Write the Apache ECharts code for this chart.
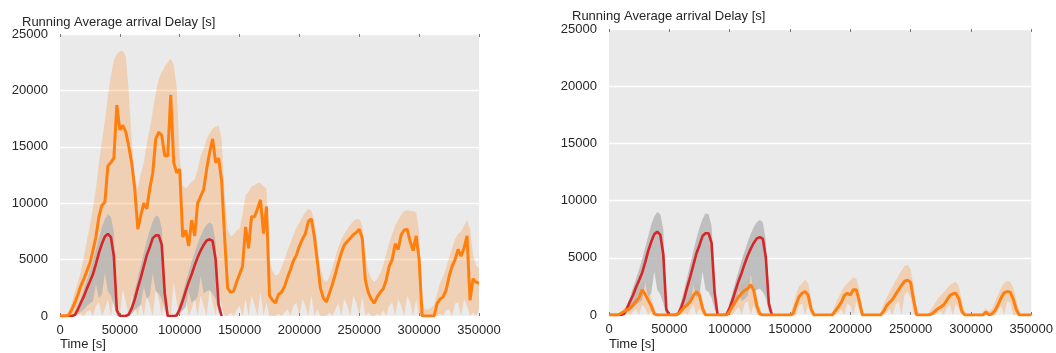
<!DOCTYPE html>
<html>
<head>
<meta charset="utf-8">
<script src="https://cdn.jsdelivr.net/npm/echarts@6.0.0/dist/echarts.min.js"></script>
<style>
  html, body { margin: 0; padding: 0; background: #fff; }
  #chart { width: 1056px; height: 353px; }
</style>
</head>
<body>
<div id="chart"></div>
<script>
// samples every 2500 s, from 0 to 350000 s
const STEP = 2500;

// left panel: orange running average + its min/max band
const leftAvg = [
  0, 0, 0, 100, 600, 1200, 1900, 2700, 3300, 4000,
  4700, 5800, 7000, 8800, 9800, 10100, 13300, 13600, 14000, 18700,
  16500, 16900, 16300, 15000, 13500, 11200, 7700, 8900, 10000, 9500,
  11300, 12700, 15700, 16300, 16000, 14200, 14200, 19600, 13600, 12700,
  13000, 7000, 7600, 6200, 8500, 7100, 10000, 10600, 11200, 13000,
  14500, 15700, 13600, 14000, 12000, 7000, 2500, 2100, 2200, 3000,
  3700, 4400, 7900, 6000, 8800, 8800, 9500, 10300, 7300, 9700,
  1800, 1400, 1150, 1900, 2100, 2600, 3400, 4100, 4900, 5400,
  6200, 6800, 7300, 8400, 8600, 7000, 4800, 2500, 1600, 1250,
  2000, 2800, 3700, 4700, 5600, 6300, 6600, 6900, 7200, 7400,
  7700, 6900, 3200, 2100, 1500, 1150, 1700, 2100, 2400, 3200,
  4400, 5000, 6400, 5900, 7200, 7600, 7700, 6600, 5800, 7100,
  5000, 0, 0, 0, 0, 0, 1100, 1500, 1700, 2300,
  3500, 4400, 5000, 5900, 5300, 6000, 7100, 1400, 3300, 3000,
  2900
];
const leftHi = [
  0, 0, 0, 500, 1200, 2200, 3000, 4000, 5300, 6700,
  8000, 9600, 11300, 13600, 15500, 17300, 19500, 21300, 22700, 23200,
  23500, 23500, 23000, 19800, 15500, 12200, 11300, 12600, 13600, 15300,
  16600, 18200, 19800, 21000, 21600, 22100, 22500, 22800, 22300, 20200,
  14000, 11600, 11300, 11600, 11900, 12100, 13000, 14200, 14800, 15700,
  16200, 16600, 16800, 16900, 15700, 11000, 7700, 7100, 7200, 7600,
  7700, 9000, 10700, 11000, 11500, 11600, 11800, 11800, 11500, 11300,
  5000, 4000, 3600, 3700, 4300, 5000, 5800, 6500, 7200, 7800,
  8300, 8800, 9200, 9500, 9300, 8500, 6500, 4300, 3300, 3000,
  3500, 4300, 5200, 6100, 6800, 7300, 7700, 8100, 8400, 8600,
  8600, 8000, 5500, 4000, 3300, 3000, 3300, 3800, 4500, 5500,
  6500, 7300, 8000, 8500, 9000, 9300, 9400, 9300, 9300, 9200,
  7500, 1000, 600, 600, 700, 1000, 2000, 3000, 3500, 4200,
  5200, 6000, 6800, 7300, 7500, 8000, 8500, 7700, 5500, 4500,
  4200
];
const leftLo = [
  0, 0, 0, 0, 0, 0, 100, 200, 0, 400,
  500, 0, 900, 1200, 0, 600, 1500, 0, 1800, 900,
  0, 2400, 1200, 0, 1800, 900, 0, 1200, 0, 1800,
  900, 0, 2400, 1500, 0, 1800, 900, 0, 3000, 1200,
  0, 900, 1800, 0, 600, 1500, 0, 1800, 900, 0,
  2400, 1200, 0, 2100, 900, 0, 0, 300, 0, 500,
  900, 0, 1500, 0, 1800, 900, 0, 2100, 0, 1200,
  0, 0, 0, 200, 0, 300, 600, 0, 900, 1200,
  0, 1500, 900, 0, 1800, 0, 600, 0, 0, 0,
  300, 0, 600, 1100, 0, 1500, 900, 0, 1800, 1200,
  0, 1800, 0, 300, 0, 0, 200, 0, 500, 0,
  900, 1200, 0, 1500, 900, 0, 1800, 1200, 0, 1500,
  0, 0, 0, 0, 0, 0, 0, 200, 0, 500,
  600, 0, 1100, 1200, 0, 1500, 900, 0, 300, 0,
  600
];

// right panel: orange running average + band
const rightAvg = [
  0, 0, 0, 0, 150, 300, 450, 600, 900, 1200,
  1500, 2200, 1800, 1300, 800, 100, 0, 0, 0, 0,
  0, 0, 0, 100, 400, 700, 900, 1200, 1700, 2050,
  1700, 600, 0, 0, 0, 0, 0, 0, 0, 0,
  300, 800, 1200, 1600, 1900, 2150, 2300, 2650, 2100, 800,
  100, 0, 0, 0, 0, 0, 0, 0, 0, 0,
  0, 100, 900, 1600, 1900, 2050, 1750, 500, 0, 0,
  0, 0, 0, 0, 0, 350, 700, 1100, 1700, 1900,
  1750, 2200, 2200, 1200, 0, 0, 0, 0, 0, 0,
  0, 300, 800, 1100, 1350, 1800, 2200, 2600, 2950, 3050,
  2850, 1300, 0, 0, 0, 0, 0, 100, 300, 550,
  700, 900, 1300, 1700, 1850, 1900, 1400, 300, 0, 0,
  0, 0, 0, 0, 0, 250, 0, 100, 400, 900,
  1500, 1950, 2050, 2000, 1400, 500, 0, 0, 0, 0,
  0
];
const rightHi = [
  0, 0, 0, 0, 300, 600, 900, 1200, 1600, 2000,
  2500, 2900, 2700, 2200, 1500, 600, 0, 0, 0, 0,
  0, 0, 0, 300, 800, 1200, 1600, 2000, 2500, 2800,
  2500, 1300, 200, 0, 0, 0, 0, 0, 0, 0,
  700, 1300, 1800, 2300, 2700, 2900, 3100, 3300, 3000, 1800,
  600, 0, 0, 0, 0, 0, 0, 0, 0, 0,
  0, 800, 1800, 2500, 2800, 3100, 2800, 1400, 200, 0,
  0, 0, 0, 0, 200, 900, 1500, 2000, 2500, 2800,
  3000, 3300, 3200, 2200, 500, 0, 0, 0, 0, 0,
  200, 900, 1500, 2000, 2500, 3000, 3500, 3900, 4300, 4400,
  4000, 2500, 600, 0, 0, 0, 200, 600, 1000, 1400,
  1700, 2000, 2300, 2600, 2800, 2900, 2500, 1200, 200, 0,
  0, 0, 0, 0, 300, 600, 300, 600, 1200, 1800,
  2400, 2800, 3000, 2900, 2400, 1400, 300, 0, 0, 0,
  0
];
const rightLo = [
  0, 0, 0, 0, 0, 0, 100, 0, 300, 500,
  0, 900, 600, 0, 300, 0, 0, 0, 0, 0,
  0, 0, 0, 0, 0, 200, 0, 500, 900, 0,
  600, 0, 0, 0, 0, 0, 0, 0, 0, 0,
  0, 0, 400, 700, 0, 1000, 1200, 0, 900, 0,
  0, 0, 0, 0, 0, 0, 0, 0, 0, 0,
  0, 0, 0, 800, 1000, 0, 900, 0, 0, 0,
  0, 0, 0, 0, 0, 0, 200, 500, 0, 1000,
  800, 0, 1200, 300, 0, 0, 0, 0, 0, 0,
  0, 0, 200, 500, 0, 900, 1200, 0, 1800, 2000,
  1500, 0, 0, 0, 0, 0, 0, 0, 0, 200,
  300, 0, 600, 900, 0, 1000, 500, 0, 0, 0,
  0, 0, 0, 0, 0, 0, 0, 0, 0, 400,
  800, 0, 1200, 1100, 0, 0, 0, 0, 0, 0,
  0
];

// red running average and grey band, same in both panels (0 .. 135000 s)
const redAvg = [
  0, 0, 0, 0, 0, 100, 600, 1200, 1750, 2450,
  3050, 3700, 4600, 5600, 6400, 7050, 7280, 7000, 5300, 500,
  0, 0, 0, 150, 700, 1500, 2500, 3400, 4400, 5400,
  6100, 6900, 7150, 7150, 6300, 2000, 0, 0, 0, 50,
  600, 1350, 2200, 3000, 3700, 4500, 5200, 5800, 6300, 6700,
  6800, 6650, 5000, 1000, 0
];
const greyHi = [
  0, 0, 0, 0, 0, 300, 900, 1600, 2400, 3200,
  4000, 4900, 5900, 6900, 7900, 8600, 9000, 8800, 7500, 600,
  0, 0, 0, 400, 1200, 2300, 3400, 4500, 5600, 6700,
  7600, 8400, 8900, 8800, 7800, 3000, 0, 0, 0, 300,
  1100, 2000, 3000, 3900, 4800, 5600, 6400, 7100, 7700, 8100,
  8300, 8100, 6500, 1500, 0
];
const greyLo = [
  0, 0, 0, 0, 0, 0, 200, 400, 600, 900,
  1100, 1300, 2800, 1600, 1900, 3800, 2200, 1800, 1000, 0,
  0, 0, 0, 0, 200, 500, 800, 1000, 2600, 1500,
  1800, 3800, 2200, 2000, 1500, 500, 0, 0, 0, 0,
  200, 500, 800, 2200, 1200, 1400, 1700, 3500, 2000, 2200,
  2300, 2000, 1500, 300, 0
];

const ORANGE = '#ff7f0e';
const RED = '#d62728';
const BAND_ORANGE = 'rgba(255,140,40,0.27)';
const BAND_GREY = 'rgba(180,180,180,0.8)';
const FONT = '"Liberation Sans", Arial, sans-serif';

const pts = arr => arr.map((v, i) => [i * STEP, v]);

// filled region between lo and hi, drawn as one polygon through the axes
function band(k, lo, hi, color) {
  return {
    type: 'custom', xAxisIndex: 2 * k, yAxisIndex: k, data: [[0, 0]], clip: true, silent: true,
    renderItem: (params, api) => {
      const up = hi.map((v, i) => api.coord([i * STEP, v]));
      const dn = lo.map((v, i) => api.coord([i * STEP, v])).reverse();
      return { type: 'polygon', shape: { points: up.concat(dn) }, style: { fill: color } };
    }
  };
}

function line(k, arr, color, width) {
  return { type: 'line', xAxisIndex: 2 * k, yAxisIndex: k, data: pts(arr), symbol: 'none',
    lineStyle: { color: color, width: width }, silent: true };
}

const panels = [
  { grid: { left: 60, top: 34, width: 419, height: 282 }, avg: leftAvg, lo: leftLo, hi: leftHi },
  { grid: { left: 609, top: 29, width: 424, height: 286 }, avg: rightAvg, lo: rightLo, hi: rightHi }
];

let grids = [], xAxes = [], yAxes = [], series = [];
panels.forEach((p, k) => {
  grids.push(Object.assign({ backgroundColor: '#eaeaea', show: true, borderWidth: 0 }, p.grid));
  xAxes.push({
    type: 'value', gridIndex: k, min: 0, max: 350000, interval: 50000,
    axisLine: { show: false }, splitLine: { show: false },
    axisTick: { inside: true, length: 3, lineStyle: { color: '#777' } },
    axisLabel: { fontSize: 13, color: '#262626', fontFamily: FONT, margin: 8, formatter: v => String(v) }
  });
  xAxes.push({
    type: 'value', gridIndex: k, position: 'top', min: 0, max: 350000, interval: 50000,
    axisLine: { show: false }, splitLine: { show: false }, axisLabel: { show: false },
    axisTick: { inside: true, length: 3, lineStyle: { color: '#777' } }
  });
  yAxes.push({
    type: 'value', gridIndex: k, min: 0, max: 25000, interval: 5000,
    axisLine: { show: false }, axisTick: { show: false },
    splitLine: { lineStyle: { color: '#fff', width: 1.3 } },
    axisLabel: { fontSize: 13, color: '#262626', fontFamily: FONT, margin: 12, formatter: v => String(v) }
  });
  series.push(band(k, p.lo, p.hi, BAND_ORANGE));
  series.push(band(k, greyLo, greyHi, BAND_GREY));
  series.push(line(k, redAvg, RED, 2.6));
  series.push(line(k, p.avg, ORANGE, 3));
});

const txt = (text, left, top) => ({
  type: 'text', left: left, top: top,
  style: { text: text, fontSize: 13, fontFamily: FONT, fill: '#262626' }
});

const chart = echarts.init(document.getElementById('chart'));
chart.setOption({
  animation: false,
  grid: grids,
  xAxis: xAxes,
  yAxis: yAxes,
  series: series,
  graphic: [
    txt('Running Average arrival Delay [s]', 22, 16),
    txt('Running Average arrival Delay [s]', 572, 10),
    txt('Time [s]', 60, 338),
    txt('Time [s]', 609, 338)
  ]
});
</script>
</body>
</html>
